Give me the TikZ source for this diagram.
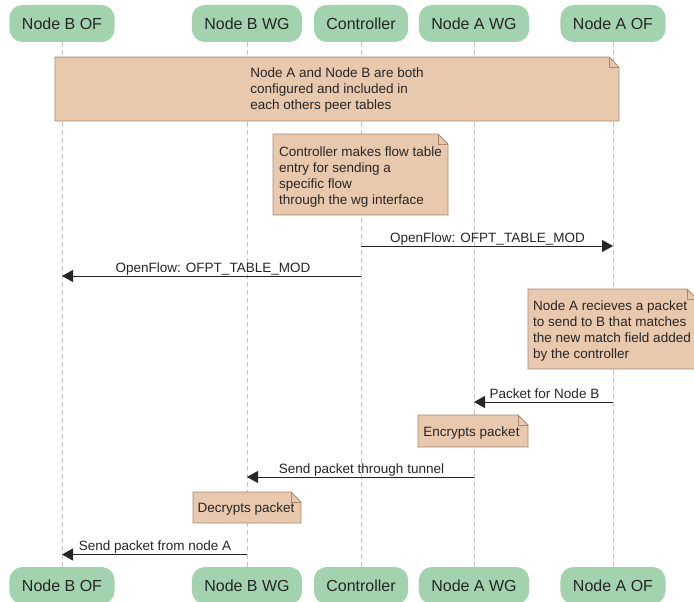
\documentclass[tikz,border=0pt]{standalone}
\usepackage{fontspec}
\setmainfont{Liberation Sans}
\usetikzlibrary{arrows.meta,calc}
\definecolor{partfill}{HTML}{A3D2AE}
\definecolor{notefill}{HTML}{E9C9AE}
\definecolor{noteedge}{HTML}{A8896E}
\definecolor{lifegray}{HTML}{C4C4C4}
\definecolor{ink}{HTML}{262626}

% folded-corner note background: left x, top y, right x, bottom y
\newcommand\dognote[4]{%
  \filldraw[fill=notefill,draw=noteedge,line width=0.8pt]
    (#1,#2) -- (#3-10,#2) -- (#3,#2+10) -- (#3,#4) -- (#1,#4) -- cycle;
  \draw[noteedge,line width=0.8pt] (#3-10,#2) -- (#3-10,#2+10) -- (#3,#2+10);}

\begin{document}
\begin{tikzpicture}[x=1pt,y=-1pt,
  participant/.style={fill=partfill, rounded corners=13pt, minimum height=37pt,
    inner xsep=12.5pt, inner ysep=0pt, text=ink, font=\fontsize{16}{19}\selectfont},
  notetext/.style={inner sep=0pt, align=left, text=ink, font=\fontsize{13.5}{16}\selectfont},
  msg/.style={draw=ink, line width=0.9pt, -{Triangle[length=11pt,width=12pt]}},
  msglabel/.style={anchor=base, inner sep=0pt, text=ink, font=\fontsize{13.5}{16}\selectfont},
  life/.style={draw=lifegray, line width=0.8pt, dash pattern=on 5pt off 3pt}
]
\useasboundingbox (0,0) rectangle (694,602);

% participants, top and bottom
\node[participant] (bof) at (62,23.5) {Node B OF};
\node[participant] (bwg) at (247,23.5) {Node B WG};
\node[participant] (ctl) at (361,23.5) {Controller};
\node[participant] (awg) at (474,23.5) {Node A WG};
\node[participant] (aof) at (613,23.5) {Node A OF};
\node[participant] (bofb) at (62,585.5) {Node B OF};
\node[participant] (bwgb) at (247,585.5) {Node B WG};
\node[participant] (ctlb) at (361,585.5) {Controller};
\node[participant] (awgb) at (474,585.5) {Node A WG};
\node[participant] (aofb) at (613,585.5) {Node A OF};

% lifelines
\draw[life] (bof.south) -- (bofb.north);
\draw[life] (bwg.south) -- (bwgb.north);
\draw[life] (ctl.south) -- (ctlb.north);
\draw[life] (awg.south) -- (awgb.north);
\draw[life] (aof.south) -- (aofb.north);

% notes
\dognote{55}{57}{619}{121}
\node[notetext] (n1) at (337,90) {Node A and Node B are both\\configured and included in\\each others peer tables};

\dognote{273}{134}{448}{215}
\node[notetext] (n2) at (360.5,177) {Controller makes flow table\\entry for sending a\\specific flow\\through the wg interface};

\dognote{528}{289}{697}{369}
\node[notetext,anchor=west] (n3) at (533,331.5) {Node A recieves a packet\\to send to B that matches\\the new match field added\\by the controller};

\dognote{418}{415}{528}{447}
\node[notetext] (n4) at (471.5,433) {Encrypts packet};

\dognote{193}{492}{301}{523}
\node[notetext] (n5) at (246,509.5) {Decrypts packet};

% messages
\draw[msg] (ctl |- 0,246) -- (aof |- 0,246);
\node[msglabel] (l1) at (487.5,242) {OpenFlow: OFPT\_TABLE\_MOD};

\draw[msg] (ctl |- 0,276) -- (bof |- 0,276);
\node[msglabel] (l2) at (213,272) {OpenFlow: OFPT\_TABLE\_MOD};

\draw[msg] (aof |- 0,402) -- (awg |- 0,402);
\node[msglabel] (l3) at (544.5,398) {Packet for Node B};

\draw[msg] (awg |- 0,477) -- (bwg |- 0,477);
\node[msglabel] (l4) at (361.5,473) {Send packet through tunnel};

\draw[msg] (bwg |- 0,554.5) -- (bof |- 0,554.5);
\node[msglabel] (l5) at (155,550.5) {Send packet from node A};
\end{tikzpicture}
\end{document}
